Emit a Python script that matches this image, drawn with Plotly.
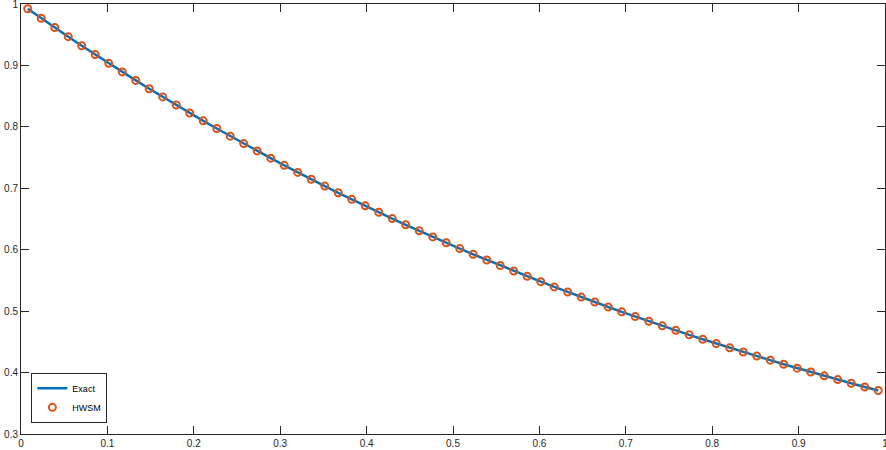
import plotly.graph_objects as go

# collocation points
x_pts = [0.0078, 0.0234, 0.0391, 0.0547, 0.0703, 0.0859, 0.1016, 0.1172,
         0.1328, 0.1484, 0.1641, 0.1797, 0.1953, 0.2109, 0.2266, 0.2422,
         0.2578, 0.2734, 0.2891, 0.3047, 0.3203, 0.3359, 0.3516, 0.3672,
         0.3828, 0.3984, 0.4141, 0.4297, 0.4453, 0.4609, 0.4766, 0.4922,
         0.5078, 0.5234, 0.5391, 0.5547, 0.5703, 0.5859, 0.6016, 0.6172,
         0.6328, 0.6484, 0.6641, 0.6797, 0.6953, 0.7109, 0.7266, 0.7422,
         0.7578, 0.7734, 0.7891, 0.8047, 0.8203, 0.8359, 0.8516, 0.8672,
         0.8828, 0.8984, 0.9141, 0.9297, 0.9453, 0.9609, 0.9766, 0.9922]

exact = [0.9922, 0.9768, 0.9617, 0.9468, 0.9321, 0.9177, 0.9034, 0.8894,
         0.8756, 0.8621, 0.8487, 0.8355, 0.8226, 0.8098, 0.7973, 0.7849,
         0.7728, 0.7608, 0.7490, 0.7374, 0.7259, 0.7147, 0.7036, 0.6927,
         0.6820, 0.6714, 0.6610, 0.6507, 0.6406, 0.6307, 0.6209, 0.6113,
         0.6018, 0.5925, 0.5833, 0.5743, 0.5654, 0.5566, 0.5480, 0.5395,
         0.5311, 0.5229, 0.5148, 0.5068, 0.4989, 0.4912, 0.4836, 0.4761,
         0.4687, 0.4614, 0.4543, 0.4473, 0.4403, 0.4335, 0.4268, 0.4202,
         0.4136, 0.4072, 0.4009, 0.3947, 0.3886, 0.3826, 0.3766, 0.3708]

hwsm = list(exact)

x_ticks = [0, 0.1, 0.2, 0.3, 0.4, 0.5, 0.6, 0.7, 0.8, 0.9, 1]
x_labels = ["0", "0.1", "0.2", "0.3", "0.4", "0.5", "0.6", "0.7", "0.8", "0.9", "1"]
y_ticks = [0.3, 0.4, 0.5, 0.6, 0.7, 0.8, 0.9, 1]
y_labels = ["0.3", "0.4", "0.5", "0.6", "0.7", "0.8", "0.9", "1"]

fig = go.Figure()
fig.add_trace(go.Scatter(x=x_pts, y=exact, mode="lines", name="Exact",
                         line=dict(color="#0072BD", width=2.5)))
fig.add_trace(go.Scatter(x=x_pts, y=hwsm, mode="markers", name="HWSM",
                         marker=dict(symbol="circle-open", size=7,
                                     color="#D95319",
                                     line=dict(width=2, color="#D95319"))))

axis_common = dict(showgrid=False, zeroline=False, showline=True, mirror="ticks",
                   linecolor="#262626", linewidth=1, ticks="inside", ticklen=8,
                   tickcolor="#262626", tickwidth=1, automargin=False,
                   ticklabeloverflow="allow",
                   tickfont=dict(family="Liberation Sans, Arial", size=10, color="#262626"))

fig.update_layout(
    width=886, height=450,
    margin=dict(l=21, r=1, t=4, b=16),
    paper_bgcolor="white", plot_bgcolor="white",
    xaxis=dict(range=[0, 1], tickvals=x_ticks, ticktext=x_labels, **axis_common),
    yaxis=dict(range=[0.3, 1], tickvals=y_ticks, ticktext=y_labels, **axis_common),
    legend=dict(x=0.012, y=0.026, xanchor="left", yanchor="bottom",
                bgcolor="white", bordercolor="#262626", borderwidth=1,
                font=dict(family="Liberation Sans, Arial", size=9, color="#000000"),
                itemwidth=30, tracegroupgap=0),
    showlegend=True,
)

# page body has a default 8px margin, drop it so the figure sits at the corner
fig.write_html("out.html", config={"displayModeBar": False},
               post_script="document.body.style.margin='0';")
